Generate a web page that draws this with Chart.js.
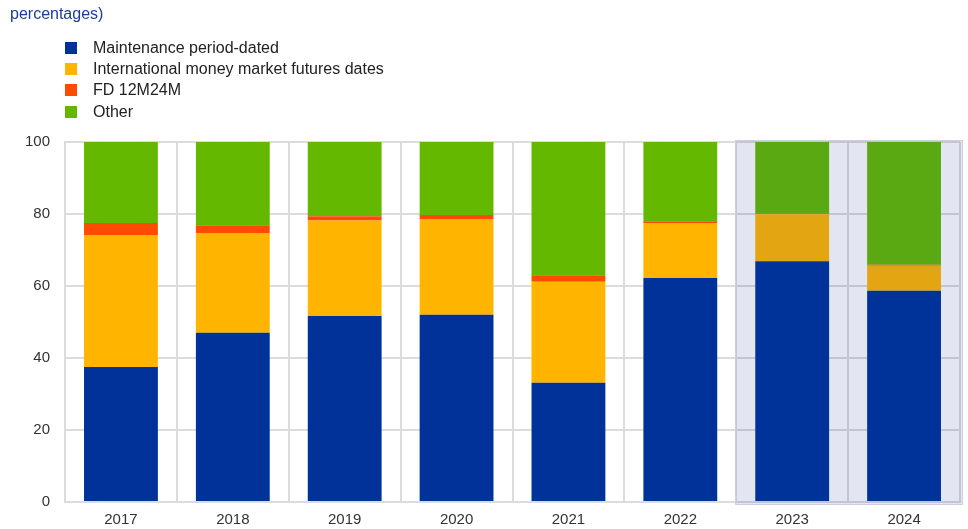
<!DOCTYPE html>
<html>
<head>
<meta charset="utf-8">
<script src="https://cdn.jsdelivr.net/npm/chart.js@4/dist/chart.umd.min.js"></script>
<style>
  html, body { margin: 0; padding: 0; background: #fff; }
  #wrap { position: relative; width: 968px; height: 529px; font-family: "Liberation Sans", Arial, sans-serif; }
  #chart { position: absolute; left: 0; top: 0; }
  #subtitle { position: absolute; left: 10px; top: 5px; font-size: 16px; color: #1e3c99; }
  #legend { position: absolute; left: 65px; top: 37px; font-size: 16px; color: #222; }
  .item { height: 21.3px; display: flex; align-items: center; }
  .box { width: 12px; height: 12px; margin-right: 16px; }
</style>
</head>
<body>
<div id="wrap">
  <canvas id="chart" width="968" height="529"></canvas>
  <div id="subtitle">percentages)</div>
  <div id="legend"></div>
</div>
<script>
const years = ['2017', '2018', '2019', '2020', '2021', '2022', '2023', '2024'];
const maintenance = [37.5, 47.0, 51.7, 52.0, 33.1, 62.2, 66.9, 58.7];
const imm = [36.5, 27.7, 26.5, 26.6, 28.1, 15.3, 13.0, 6.9];
const fd12m24m = [3.5, 2.2, 1.2, 1.1, 1.8, 0.5, 0.3, 0.3];
const other = [22.5, 23.1, 20.6, 20.3, 37.0, 22.0, 19.8, 34.1];
const yTicks = [0, 20, 40, 60, 80, 100];

// first year of the highlighted (shaded) period
const shadedFrom = 6;

function colours(base, shaded) {
  return years.map((_, i) => (i >= shadedFrom ? shaded : base));
}

const series = [
  { label: 'Maintenance period-dated', data: maintenance, color: '#003299', shaded: '#003399' },
  { label: 'International money market futures dates', data: imm, color: '#ffb400', shaded: '#e3a612' },
  { label: 'FD 12M24M', data: fd12m24m, color: '#ff4b00', shaded: '#e8520c' },
  { label: 'Other', data: other, color: '#65b800', shaded: '#5aa812' }
];

// vertical legend
const legend = document.getElementById('legend');
series.forEach(s => {
  const row = document.createElement('div');
  row.className = 'item';
  const box = document.createElement('span');
  box.className = 'box';
  box.style.background = s.color;
  const txt = document.createElement('span');
  txt.textContent = s.label;
  row.appendChild(box);
  row.appendChild(txt);
  legend.appendChild(row);
});

// lavender band over the grid (multiplied, so the grid lines show through darker)
const shadePlugin = {
  id: 'shade',
  beforeDatasetsDraw(chart) {
    const { ctx, chartArea, scales } = chart;
    const x = scales.x;
    const step = (chartArea.right - chartArea.left) / years.length;
    const left = x.getPixelForValue(shadedFrom) - step / 2 - 1;
    const right = chartArea.right + 3;
    const top = chartArea.top - 2;
    const bottom = chartArea.bottom + 3;
    ctx.save();
    ctx.globalCompositeOperation = 'multiply';
    ctx.fillStyle = '#e3e5f2';
    ctx.fillRect(left, top, right - left, bottom - top);
    ctx.globalCompositeOperation = 'source-over';
    ctx.strokeStyle = '#cdd0e2';
    ctx.lineWidth = 1;
    ctx.strokeRect(left + 0.5, top + 0.5, right - left - 1, bottom - top - 1);
    ctx.restore();
  }
};

new Chart(document.getElementById('chart'), {
  type: 'bar',
  data: {
    labels: years,
    datasets: series.map(s => ({
      label: s.label,
      data: s.data,
      backgroundColor: colours(s.color, s.shaded),
      borderWidth: 0,
      barPercentage: 0.66,
      categoryPercentage: 1.0
    }))
  },
  options: {
    responsive: false,
    animation: false,
    layout: { padding: { top: 142, right: 8, left: 0, bottom: 0 } },
    plugins: {
      legend: { display: false },
      tooltip: { enabled: false }
    },
    scales: {
      x: {
        stacked: true,
        offset: true,
        grid: { offset: true, color: '#dcdcdc', lineWidth: 2, drawTicks: false },
        border: { color: '#dcdcdc', width: 2 },
        ticks: { color: '#333', font: { family: 'Liberation Sans, Arial', size: 15 }, padding: 9 },
        afterFit(scale) { scale.height = 27; }
      },
      y: {
        stacked: true,
        min: 0,
        max: 100,
        afterBuildTicks(scale) { scale.ticks = yTicks.map(v => ({ value: v })); },
        grid: { color: '#dcdcdc', lineWidth: 2, drawTicks: false },
        border: { color: '#dcdcdc', width: 2 },
        ticks: { color: '#333', font: { family: 'Liberation Sans, Arial', size: 15 }, padding: 15 },
        afterFit(scale) { scale.width = 65; }
      }
    }
  },
  plugins: [shadePlugin]
});
</script>
</body>
</html>
